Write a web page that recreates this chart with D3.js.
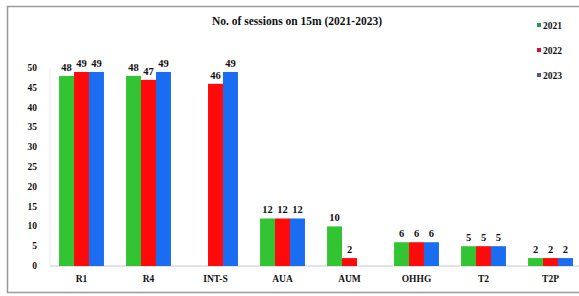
<!DOCTYPE html>
<meta charset="utf-8">
<style>
body { margin: 0; background: #fff; }
svg { display: block; }
</style>
<body></body>
<script src="https://cdn.jsdelivr.net/npm/d3@7"></script>
<script>
// chart values
var categories = ["R1", "R4", "INT-S", "AUA", "AUM", "OHHG", "T2", "T2P"];
var years = ["2021", "2022", "2023"];
var s2021 = [48, 48, null, 12, 10, 6, 5, 2];
var s2022 = [49, 47, 46, 12, 2, 6, 5, 2];
var s2023 = [49, 49, 49, 12, null, 6, 5, 2];
var yTicks = [0, 5, 10, 15, 20, 25, 30, 35, 40, 45, 50];
var colors = ["#33c433", "#ff0a0a", "#1a6cf0"];
var legendColors = ["#1e9a5c", "#d0103c", "#4a5a9c"];
var series = [s2021, s2022, s2023];

var FONT = "'Liberation Serif', 'Times New Roman', Times, serif";
var W = 579, H = 296;
var svg = d3.select("body").append("svg").attr("width", W).attr("height", H)
    .attr("font-family", FONT).attr("font-weight", "bold");

// frame
svg.append("rect").attr("x", 7.5).attr("y", 6.5).attr("width", 600).attr("height", 286)
    .attr("fill", "#fff").attr("stroke", "#9a9a9a").attr("stroke-width", 1.5);

var x = d3.scaleBand().domain(categories).range([48, 584]).paddingInner(0.33).paddingOuter(0.165);
var xs = d3.scaleBand().domain(years).range([0, x.bandwidth()]);
var y = d3.scaleLinear().domain([0, 50]).range([266, 68]);

// title
svg.append("text").attr("x", 297).attr("y", 25)
    .attr("text-anchor", "middle").attr("font-size", 11.5).attr("fill", "#111")
    .text("No. of sessions on 15m (2021-2023)");

// axes
svg.append("line").attr("x1", 50).attr("x2", 600).attr("y1", y(0)).attr("y2", y(0))
    .attr("stroke", "#c8c8c8").attr("stroke-width", 1);
svg.append("line").attr("x1", 50).attr("x2", 50).attr("y1", y(0)).attr("y2", y(50))
    .attr("stroke", "#ececec").attr("stroke-width", 1);

svg.selectAll(".ytick").data(yTicks).enter().append("text")
    .attr("class", "ytick").attr("fill", "#111")
    .attr("x", 37).attr("y", function(d) { return y(d) + 3; })
    .attr("text-anchor", "end").attr("font-size", 9.5)
    .text(function(d) { return d; });

svg.selectAll(".xlab").data(categories).enter().append("text")
    .attr("class", "xlab").attr("fill", "#111")
    .attr("x", function(d) { return x(d) + x.bandwidth() / 2; })
    .attr("y", 282).attr("text-anchor", "middle").attr("font-size", 9.5)
    .text(function(d) { return d; });

// bars and value labels
for (var i = 0; i < series.length; i++) {
    var rows = categories.map(function(c, j) { return {cat: c, v: series[i][j]}; })
        .filter(function(d) { return d.v != null; });
    svg.selectAll(".bar" + i).data(rows).enter().append("rect")
        .attr("x", function(d) { return x(d.cat) + xs(years[i]); })
        .attr("y", function(d) { return y(d.v); })
        .attr("width", xs.bandwidth())
        .attr("height", function(d) { return y(0) - y(d.v); })
        .attr("fill", colors[i]);
    svg.selectAll(".val" + i).data(rows).enter().append("text")
        .attr("fill", "#111")
        .attr("x", function(d) { return x(d.cat) + xs(years[i]) + xs.bandwidth() / 2; })
        .attr("y", function(d) { return y(d.v) - 5; })
        .attr("text-anchor", "middle").attr("font-size", 10.5)
        .text(function(d) { return d.v; });
}

// legend
years.forEach(function(yr, i) {
    var ly = 25 + i * 25;
    svg.append("rect").attr("x", 537).attr("y", ly - 2).attr("width", 4).attr("height", 4)
        .attr("fill", legendColors[i]);
    svg.append("text").attr("x", 543).attr("y", ly + 3.5).attr("fill", "#111")
        .attr("font-size", 9.5).text(yr);
});
</script>
